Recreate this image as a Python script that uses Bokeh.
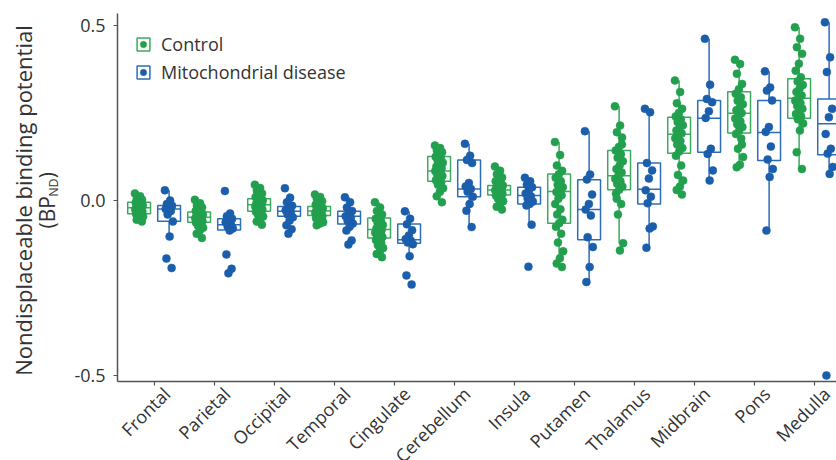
import math
from bokeh.plotting import figure
from bokeh.models import (ColumnDataSource, FixedTicker, Range1d, Label, Legend, LinearAxis,
                          LegendItem, NumeralTickFormatter, CustomJSTickFormatter)
from bokeh.embed import file_html
from bokeh.resources import INLINE

regions = ["Frontal", "Parietal", "Occipital", "Temporal", "Cingulate", "Cerebellum",
           "Insula", "Putamen", "Thalamus", "Midbrain", "Pons", "Medulla"]

# Box statistics (BP_ND)
ctrl_q1 = [-0.038, -0.062, -0.031, -0.043, -0.107, 0.055, 0.016, -0.065, 0.031, 0.135, 0.193, 0.235]
ctrl_med = [-0.021, -0.048, -0.012, -0.030, -0.083, 0.084, 0.030, 0.026, 0.071, 0.189, 0.249, 0.292]
ctrl_q3 = [-0.005, -0.033, 0.005, -0.017, -0.050, 0.126, 0.043, 0.076, 0.143, 0.238, 0.311, 0.348]
ctrl_lo = [-0.062, -0.107, -0.069, -0.071, -0.162, -0.005, -0.020, -0.190, -0.122, 0.017, 0.095, 0.090]
ctrl_hi = [0.021, 0.002, 0.045, 0.017, -0.005, 0.157, 0.085, 0.167, 0.269, 0.343, 0.402, 0.495]

dis_q1 = [-0.059, -0.084, -0.045, -0.067, -0.122, 0.011, -0.010, -0.112, -0.010, 0.138, 0.114, 0.131]
dis_med = [-0.024, -0.069, -0.031, -0.045, -0.112, 0.033, 0.014, -0.026, 0.032, 0.235, 0.194, 0.219]
dis_q3 = [-0.014, -0.052, -0.017, -0.031, -0.067, 0.116, 0.038, 0.059, 0.107, 0.286, 0.286, 0.290]
dis_lo = [-0.103, -0.086, -0.082, -0.086, -0.159, -0.076, -0.069, -0.233, -0.135, 0.057, -0.086, 0.076]
dis_hi = [0.029, -0.040, 0.020, 0.009, -0.031, 0.162, 0.065, 0.198, 0.262, 0.462, 0.369, 0.509]

# Individual subject values
ctrl_points = [
    [0.020, 0.012, 0.006, 0.002, -0.002, -0.006, -0.010, -0.012, -0.015, -0.018, -0.020, -0.022, -0.024,
     -0.026, -0.028, -0.030, -0.032, -0.035, -0.038, -0.040, -0.043, -0.046, -0.050, -0.055, -0.060],
    [0.002, -0.008, -0.015, -0.020, -0.025, -0.030, -0.033, -0.036, -0.040, -0.042, -0.045, -0.047, -0.049,
     -0.051, -0.053, -0.055, -0.058, -0.060, -0.063, -0.067, -0.072, -0.078, -0.085, -0.095, -0.107],
    [0.045, 0.036, 0.028, 0.020, 0.014, 0.010, 0.006, 0.003, 0.000, -0.004, -0.008, -0.011, -0.014,
     -0.017, -0.020, -0.023, -0.026, -0.029, -0.032, -0.036, -0.040, -0.046, -0.052, -0.060, -0.069],
    [0.017, 0.010, 0.004, -0.002, -0.008, -0.012, -0.016, -0.019, -0.022, -0.025, -0.028, -0.030, -0.032,
     -0.035, -0.038, -0.041, -0.044, -0.047, -0.050, -0.054, -0.058, -0.062, -0.066, -0.071, -0.048],
    [-0.005, -0.020, -0.030, -0.040, -0.046, -0.052, -0.058, -0.064, -0.070, -0.075, -0.080, -0.084, -0.088,
     -0.092, -0.096, -0.100, -0.104, -0.108, -0.113, -0.120, -0.128, -0.136, -0.145, -0.153, -0.162],
    [0.157, 0.150, 0.143, 0.138, 0.130, 0.125, 0.120, 0.114, 0.108, 0.102, 0.097, 0.092, 0.088,
     0.084, 0.080, 0.075, 0.070, 0.064, 0.058, 0.052, 0.045, 0.035, 0.025, 0.012, -0.005],
    [0.097, 0.085, 0.075, 0.066, 0.060, 0.055, 0.050, 0.046, 0.043, 0.040, 0.037, 0.034, 0.031,
     0.029, 0.026, 0.023, 0.020, 0.017, 0.014, 0.010, 0.005, -0.002, -0.010, -0.018, -0.026],
    [0.167, 0.130, 0.100, 0.085, 0.075, 0.065, 0.055, 0.045, 0.038, 0.030, 0.024, 0.015, 0.005,
     -0.010, -0.025, -0.040, -0.055, -0.065, -0.075, -0.095, -0.120, -0.145, -0.165, -0.180, -0.190],
    [0.269, 0.214, 0.195, 0.180, 0.153, 0.143, 0.132, 0.122, 0.112, 0.100, 0.090, 0.080, 0.071,
     0.062, 0.055, 0.048, 0.040, 0.031, 0.020, -0.010, -0.040, -0.122, -0.143, 0.005, 0.160],
    [0.343, 0.310, 0.278, 0.262, 0.250, 0.240, 0.232, 0.224, 0.215, 0.207, 0.200, 0.192, 0.185,
     0.178, 0.170, 0.160, 0.150, 0.140, 0.128, 0.100, 0.073, 0.057, 0.040, 0.030, 0.017],
    [0.402, 0.390, 0.362, 0.333, 0.318, 0.305, 0.295, 0.285, 0.275, 0.265, 0.258, 0.250, 0.242,
     0.234, 0.226, 0.218, 0.210, 0.200, 0.190, 0.177, 0.148, 0.124, 0.102, 0.095, 0.160],
    [0.495, 0.462, 0.438, 0.419, 0.391, 0.371, 0.352, 0.340, 0.330, 0.320, 0.310, 0.300, 0.292,
     0.285, 0.278, 0.270, 0.262, 0.255, 0.247, 0.240, 0.232, 0.220, 0.200, 0.138, 0.090],
]
dis_points = [
    [0.029, 0.000, -0.010, -0.015, -0.020, -0.024, -0.030, -0.040, -0.060, -0.103, -0.166, -0.193],
    [0.027, -0.037, -0.045, -0.052, -0.058, -0.062, -0.068, -0.074, -0.080, -0.086, -0.154, -0.195, -0.208],
    [0.035, 0.008, -0.005, -0.015, -0.022, -0.028, -0.033, -0.040, -0.048, -0.057, -0.071, -0.082, -0.095],
    [0.009, -0.005, -0.020, -0.030, -0.038, -0.045, -0.050, -0.058, -0.066, -0.075, -0.086, -0.114, -0.126],
    [-0.031, -0.052, -0.068, -0.085, -0.100, -0.110, -0.115, -0.120, -0.125, -0.159, -0.214, -0.240],
    [0.162, 0.128, 0.116, 0.107, 0.050, 0.040, 0.033, 0.025, 0.011, -0.010, -0.029, -0.076],
    [0.065, 0.055, 0.045, 0.038, 0.030, 0.020, 0.012, 0.005, -0.003, -0.010, -0.014, -0.069, -0.189],
    [0.198, 0.074, 0.060, 0.017, -0.010, -0.026, -0.043, -0.105, -0.133, -0.190, -0.233],
    [0.262, 0.252, 0.107, 0.086, 0.063, 0.029, 0.011, -0.008, -0.074, -0.080, -0.135],
    [0.462, 0.331, 0.290, 0.281, 0.255, 0.236, 0.148, 0.133, 0.086, 0.057],
    [0.369, 0.323, 0.314, 0.286, 0.210, 0.196, 0.154, 0.117, 0.090, 0.067, -0.086],
    [0.509, 0.409, 0.367, 0.262, 0.238, 0.190, 0.148, 0.134, 0.096, 0.076, -0.500],
]

GREEN_PT, GREEN_BOX = "#22a04e", "#3aab5e"
BLUE_PT, BLUE_BOX = "#1b5eab", "#2c6db8"
FONT = "Open Sans"
TXT = "#333333"

# Plot area (axes span); the canvas around it is part of the frame so that
# titles and rotated category labels are not clipped.
Y_LO, Y_HI = -0.5171, 0.5343
X_LO, X_HI = -0.61, 11.373
X_START = -2.56
LABEL_SHIFT = 0.21   # category labels sit slightly right of their ticks

p = figure(width=836, height=460, output_backend="svg", toolbar_location=None,
           x_range=Range1d(X_START, X_HI), y_range=Range1d(-0.7429, 0.5714), min_border=0)
p.outline_line_color = None
p.grid.visible = False
p.background_fill_color = "white"
p.extra_x_ranges = {"labels": Range1d(X_START - LABEL_SHIFT, X_HI - LABEL_SHIFT)}

HALF = 0.19


def add_group(offset, q1, med, q3, lo, hi, pts, box_color, pt_color):
    xs = [i + offset for i in range(len(regions))]
    src = ColumnDataSource(dict(x=xs, left=[x - HALF for x in xs], right=[x + HALF for x in xs],
                                q1=q1, med=med, q3=q3, lo=lo, hi=hi))
    p.segment(x0="x", y0="q3", x1="x", y1="hi", source=src, line_color=box_color, line_width=1.5)
    p.segment(x0="x", y0="q1", x1="x", y1="lo", source=src, line_color=box_color, line_width=1.5)
    box = p.quad(left="left", right="right", top="q3", bottom="q1", source=src,
                 fill_color=None, line_color=box_color, line_width=1.5)
    p.segment(x0="left", y0="med", x1="right", y1="med", source=src, line_color=box_color, line_width=1.5)
    px, py = [], []
    for i, vals in enumerate(pts):
        for k, v in enumerate(vals):
            jit = ((k * 0.618034) % 1.0 - 0.5) * 0.14
            px.append(i + offset + jit)
            py.append(v)
    sc = p.scatter(x=px, y=py, size=8, fill_color=pt_color, line_color=pt_color, line_width=0.5)
    return box, sc


box_c, sc_c = add_group(-0.25, ctrl_q1, ctrl_med, ctrl_q3, ctrl_lo, ctrl_hi, ctrl_points, GREEN_BOX, GREEN_PT)
box_d, sc_d = add_group(0.25, dis_q1, dis_med, dis_q3, dis_lo, dis_hi, dis_points, BLUE_BOX, BLUE_PT)

# Axes placed at the edges of the plotting area
for ax in (p.xaxis[0], p.yaxis[0]):
    ax.axis_line_color = "#555555"
    ax.axis_line_width = 1.5
    ax.major_tick_line_color = "#555555"
    ax.major_tick_line_width = 1.2
    ax.major_tick_in = 0
    ax.major_tick_out = 4
    ax.minor_tick_line_color = None
    ax.major_label_text_font = FONT
    ax.major_label_text_font_size = "18px"
    ax.major_label_text_color = TXT

p.yaxis.fixed_location = X_LO
p.yaxis.bounds = (Y_LO, Y_HI)
p.yaxis.ticker = FixedTicker(ticks=[-0.5, 0.0, 0.5])
p.yaxis.formatter = NumeralTickFormatter(format="0.0")
p.yaxis.major_label_standoff = 8

p.xaxis.fixed_location = Y_LO
p.xaxis.bounds = (X_LO, X_HI)
p.xaxis.ticker = FixedTicker(ticks=list(range(len(regions))))
p.xaxis.formatter = CustomJSTickFormatter(code="return ''")

# Category labels: a label-only axis on a slightly shifted copy of the x scale
lab_axis = LinearAxis(x_range_name="labels", fixed_location=Y_LO,
                      ticker=FixedTicker(ticks=list(range(len(regions)))),
                      major_label_overrides={i: r for i, r in enumerate(regions)},
                      major_label_orientation=math.pi / 4,
                      axis_line_color=None, major_tick_line_color=None, minor_tick_line_color=None,
                      major_tick_in=0, major_tick_out=5, major_label_standoff=4,
                      major_label_text_font=FONT, major_label_text_font_size="18px",
                      major_label_text_color=TXT)
p.add_layout(lab_axis, "below")

# Y-axis title (two lines, with subscript); screen units from the canvas bottom-left
p.add_layout(Label(x=22, y=260, x_units="screen", y_units="screen", angle=math.pi / 2,
                   text="Nondisplaceable binding potential", text_font=FONT, text_font_size="22px",
                   text_color=TXT, text_align="center", text_baseline="middle"))
p.add_layout(Label(x=46.5, y=232, x_units="screen", y_units="screen", angle=math.pi / 2,
                   text="(BP", text_font=FONT, text_font_size="21px",
                   text_color=TXT, text_align="left", text_baseline="middle"))
p.add_layout(Label(x=53, y=263.7, x_units="screen", y_units="screen", angle=math.pi / 2,
                   text="ND", text_font=FONT, text_font_size="12.5px",
                   text_color=TXT, text_align="left", text_baseline="middle"))
p.add_layout(Label(x=46.5, y=282.2, x_units="screen", y_units="screen", angle=math.pi / 2,
                   text=")", text_font=FONT, text_font_size="21px",
                   text_color=TXT, text_align="left", text_baseline="middle"))

legend = Legend(items=[LegendItem(label="Control", renderers=[box_c, sc_c]),
                       LegendItem(label="Mitochondrial disease", renderers=[box_d, sc_d])],
                location=(135, 376), padding=0, margin=0, spacing=4,
                glyph_width=16, glyph_height=16, label_height=16, label_standoff=10,
                label_text_font=FONT, label_text_font_size="18px", label_text_color=TXT,
                background_fill_alpha=0, border_line_color=None)
p.add_layout(legend)

open("out.html", "w").write(file_html(p, INLINE))
